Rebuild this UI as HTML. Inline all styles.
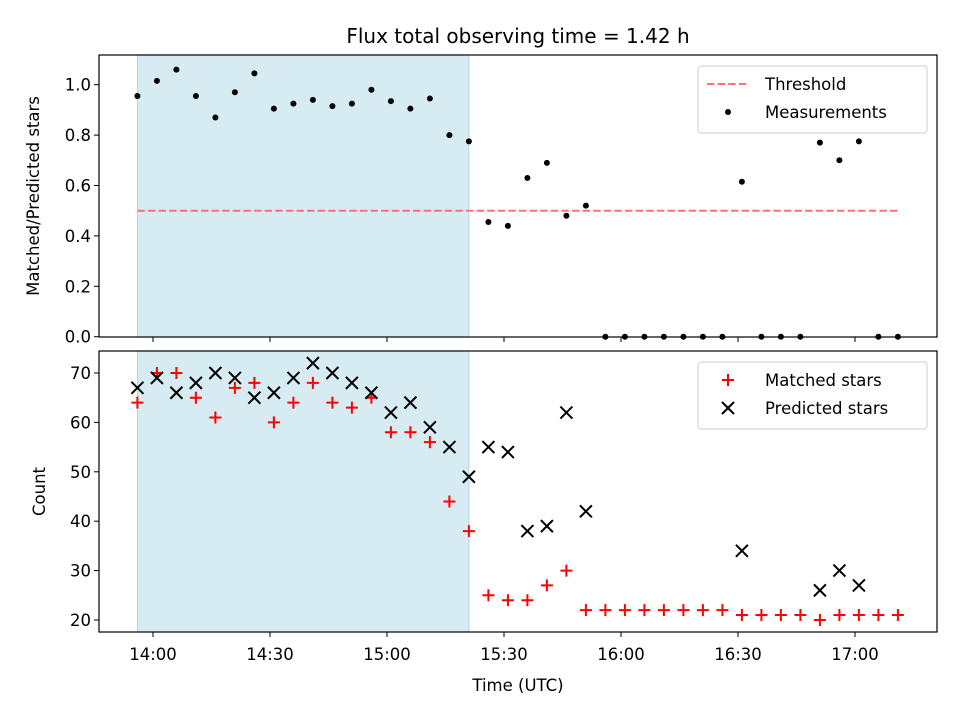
<!DOCTYPE html>
<html><head><meta charset="utf-8"><style>
body{margin:0;background:#fff;}
svg{display:block;font-family:"DejaVu Sans","Liberation Sans",sans-serif;}
</style></head><body>
<svg id="chart" width="960" height="720" viewBox="0 0 960 720"></svg>
<script>
const timesMin = [];
for (let i = 0; i < 40; i++) timesMin.push(836 + 5 * i); // minutes since midnight, 13:56 start
const ratioValues = [0.955,1.015,1.06,0.955,0.87,0.97,1.045,0.905,0.925,0.94,0.915,0.925,0.98,0.935,0.905,0.945,0.80,0.775,0.455,0.44,0.63,0.69,0.48,0.52,0,0,0,0,0,0,0,0.615,0,0,0,0.77,0.70,0.775,0,0];
const matchedValues = [64,70,70,65,61,67,68,60,64,68,64,63,65,58,58,56,44,38,25,24,24,27,30,22,22,22,22,22,22,22,22,21,21,21,21,20,21,21,21,21];
const predictedValues = [67,69,66,68,70,69,65,66,69,72,70,68,66,62,64,59,55,49,55,54,38,39,62,42,null,null,null,null,null,null,null,34,null,null,null,26,30,27,null,null];
const thresholdValue = 0.5;
const shadeRange = [836, 921];
const xTickMins = [840,870,900,930,960,990,1020];
const xTickLabels = ["14:00","14:30","15:00","15:30","16:00","16:30","17:00"];
const topYTicks = [0.0,0.2,0.4,0.6,0.8,1.0];
const botYTicks = [20,30,40,50,60,70];

const NS = "http://www.w3.org/2000/svg";
const svg = document.getElementById("chart");
function mk(tag, attrs, parent) {
  const e = document.createElementNS(NS, tag);
  for (const k in attrs) e.setAttribute(k, attrs[k]);
  (parent || svg).appendChild(e);
  return e;
}
const L = 99, R = 937;
const xS = m => 153 + (m - 840) * 3.9;
const yTop = v => 336.7 - v * 252;
const yBot = v => 620 - (v - 20) * 4.94;

// title
let t = mk("text", {x: 518, y: 43, "text-anchor": "middle", "font-size": 20});
t.textContent = "Flux total observing time = 1.42 h";



function panel(top, bottom, yFn, ticks, fmt, name, ylabel) {
  const g = mk("g", {});
  
  
  const sh = mk("rect", {x: xS(shadeRange[0]), y: top, width: xS(shadeRange[1]) - xS(shadeRange[0]), height: bottom - top, fill: "#add8e6", "fill-opacity": 0.5, stroke: "#add8e6"}, g);
  
  
  ticks.forEach(v => {
    const y = yFn(v);
    mk("line", {x1: L - 5, x2: L, y1: y, y2: y, stroke: "#000", "stroke-width": 1}, g);
    const tx = mk("text", {x: L - 8, y: y + 6, "text-anchor": "end", "font-size": 16.5}, g);
    tx.textContent = fmt(v);
    
    
  });
  xTickMins.forEach(m => {
    mk("line", {x1: xS(m), x2: xS(m), y1: bottom, y2: bottom + 5, stroke: "#000", "stroke-width": 1}, g);
  });
  const yl = mk("text", {x: 0, y: 0, "text-anchor": "middle", "font-size": 16.5, transform: `translate(${name === 'top-panel' ? 39 : 45},${(top + bottom) / 2}) rotate(-90)`}, g);
  yl.textContent = ylabel;
  
  
  return g;
}

const g1 = panel(55, 337, yTop, topYTicks, v => v.toFixed(1), 'top-panel', 'Matched/Predicted stars');
const th = mk("line", {x1: xS(timesMin[0]), x2: xS(timesMin[timesMin.length - 1]), y1: yTop(thresholdValue), y2: yTop(thresholdValue), stroke: "#ff7070", "stroke-width": 2, "stroke-dasharray": "7.4,3.2"}, g1);


ratioValues.forEach((v, i) => {
  const c = mk("circle", {cx: xS(timesMin[i]), cy: yTop(v), r: 3, fill: "#000"}, g1);
  
  
});
mk("rect", {x: L, y: 55, width: R - L, height: 282, fill: "none", stroke: "#000", "stroke-width": 1.2}, g1);

const g2 = panel(351, 632, yBot, botYTicks, v => String(v), 'bottom-panel', 'Count');
matchedValues.forEach((v, i) => {
  const x = xS(timesMin[i]), y = yBot(v);
  const p = mk("path", {d: `M${x - 6},${y}H${x + 6}M${x},${y - 6}V${y + 6}`, stroke: "#f00", "stroke-width": 2}, g2);
  
  
});
predictedValues.forEach((v, i) => {
  if (v === null) return;
  const x = xS(timesMin[i]), y = yBot(v);
  const p = mk("path", {d: `M${x - 6},${y - 6}L${x + 6},${y + 6}M${x - 6},${y + 6}L${x + 6},${y - 6}`, stroke: "#000", "stroke-width": 2}, g2);
  
  
});
mk("rect", {x: L, y: 351, width: R - L, height: 281, fill: "none", stroke: "#000", "stroke-width": 1.2}, g2);
xTickMins.forEach((m, i) => {
  const tx = mk("text", {x: xS(m), y: 660, "text-anchor": "middle", "font-size": 16.5});
  tx.textContent = xTickLabels[i];
  
  
});
const xl = mk("text", {x: 518, y: 691, "text-anchor": "middle", "font-size": 16.5});
xl.textContent = "Time (UTC)";



// legends
function legend(y0, name, items) {
  const g = mk("g", {});
  
  
  mk("rect", {x: 698, y: y0, width: 229, height: 67, rx: 3, fill: "#fff", "fill-opacity": 0.85, stroke: "#ccc"}, g);
  items.forEach((it, k) => {
    const cy = y0 + 18 + k * 28;
    it.draw(g, 728, cy);
    const tx = mk("text", {x: 765, y: cy + 6, "font-size": 16.5}, g);
    tx.textContent = it.label;
    
    
  });
}
legend(66, 'top-legend', [
  {label: "Threshold", draw: (g, x, y) => mk("line", {x1: x - 21, x2: x + 21, y1: y, y2: y, stroke: "#ff7070", "stroke-width": 2, "stroke-dasharray": "7.4,3.2"}, g)},
  {label: "Measurements", draw: (g, x, y) => mk("circle", {cx: x, cy: y, r: 3, fill: "#000"}, g)}
]);
legend(362, 'bottom-legend', [
  {label: "Matched stars", draw: (g, x, y) => mk("path", {d: `M${x - 6},${y}H${x + 6}M${x},${y - 6}V${y + 6}`, stroke: "#f00", "stroke-width": 2}, g)},
  {label: "Predicted stars", draw: (g, x, y) => mk("path", {d: `M${x - 6},${y - 6}L${x + 6},${y + 6}M${x - 6},${y + 6}L${x + 6},${y - 6}`, stroke: "#000", "stroke-width": 2}, g)}
]);
</script>
</body></html>
